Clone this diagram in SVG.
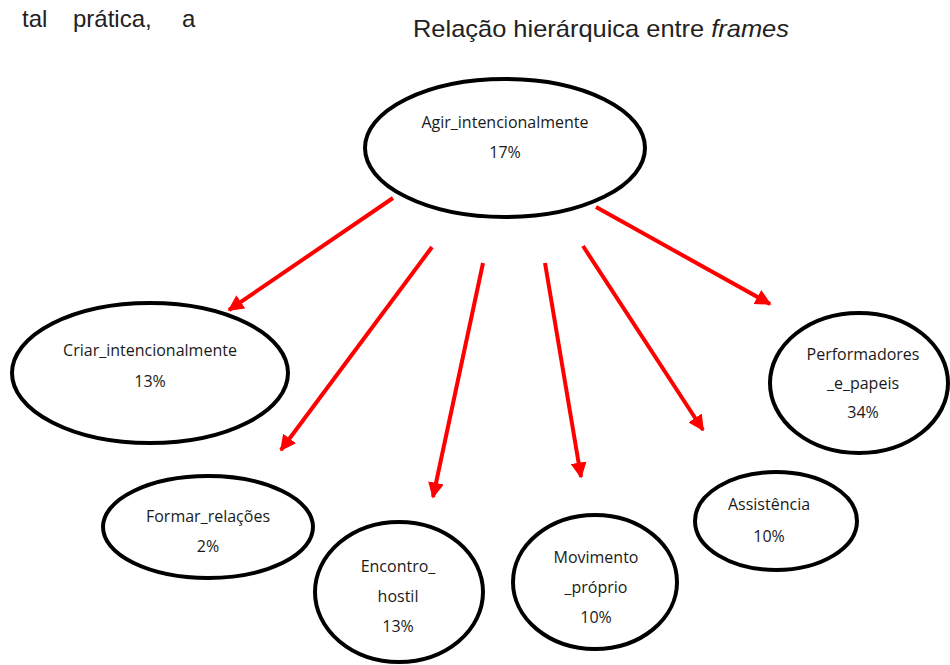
<svg xmlns="http://www.w3.org/2000/svg" width="950" height="665" viewBox="0 0 950 665">
<style>
.node{fill:#fff;stroke:#000;stroke-width:4}
.lbl{font-family:"Open Sans","Liberation Sans",sans-serif;font-size:16px;fill:#1a1a1a;text-anchor:middle}
.title{font-family:"Liberation Sans",Arial,sans-serif;font-size:24px;fill:#222}
.edge{stroke:#ff0000;stroke-width:4;fill:none;marker-end:url(#ah)}
</style>
<defs>
<marker id="ah" viewBox="0 0 10 10" refX="9" refY="5" markerWidth="4" markerHeight="4" orient="auto" markerUnits="strokeWidth">
<path d="M0,0 L10,5 L0,10 z" fill="#ff0000"/>
</marker>
</defs>
<rect width="950" height="665" fill="#fff"/>
<text class="title" y="27"><tspan x="22">tal</tspan><tspan x="73">prática,</tspan><tspan x="182">a</tspan></text>
<text class="title" x="413" y="37" textLength="376" lengthAdjust="spacingAndGlyphs">Relação hierárquica entre <tspan font-style="italic">frames</tspan></text>
<g id="connectors">
<line class="edge" x1="393" y1="198" x2="229" y2="310"/>
<line class="edge" x1="432" y1="247" x2="281" y2="450"/>
<line class="edge" x1="483" y1="263" x2="433" y2="497"/>
<line class="edge" x1="545" y1="263" x2="581" y2="477"/>
<line class="edge" x1="583" y1="246" x2="703" y2="430"/>
<line class="edge" x1="596" y1="207" x2="770" y2="304"/>
</g>
<g id="agir"><ellipse class="node" cx="505" cy="148" rx="140" ry="69"/>
<text class="lbl" x="505" y="128">Agir_intencionalmente</text><text class="lbl" x="505" y="158">17%</text></g>
<g id="criar"><ellipse class="node" cx="150" cy="373" rx="138" ry="70"/>
<text class="lbl" x="150" y="356">Criar_intencionalmente</text><text class="lbl" x="150" y="387">13%</text></g>
<g id="performadores"><ellipse class="node" cx="859" cy="383" rx="89" ry="70"/>
<text class="lbl" x="863" y="360">Performadores</text><text class="lbl" x="863" y="389">_e_papeis</text><text class="lbl" x="863" y="418">34%</text></g>
<g id="formar"><ellipse class="node" cx="208" cy="527" rx="105" ry="51"/>
<text class="lbl" x="208" y="522">Formar_relações</text><text class="lbl" x="208" y="552">2%</text></g>
<g id="encontro"><ellipse class="node" cx="399" cy="592" rx="84" ry="70"/>
<text class="lbl" x="398" y="572">Encontro_</text><text class="lbl" x="398" y="602">hostil</text><text class="lbl" x="398" y="632">13%</text></g>
<g id="movimento"><ellipse class="node" cx="595" cy="582" rx="82" ry="67"/>
<text class="lbl" x="596" y="563">Movimento</text><text class="lbl" x="596" y="593">_próprio</text><text class="lbl" x="596" y="623">10%</text></g>
<g id="assistencia"><ellipse class="node" cx="776" cy="521" rx="81" ry="49"/>
<text class="lbl" x="769" y="510">Assistência</text><text class="lbl" x="769" y="542">10%</text></g>
</svg>
